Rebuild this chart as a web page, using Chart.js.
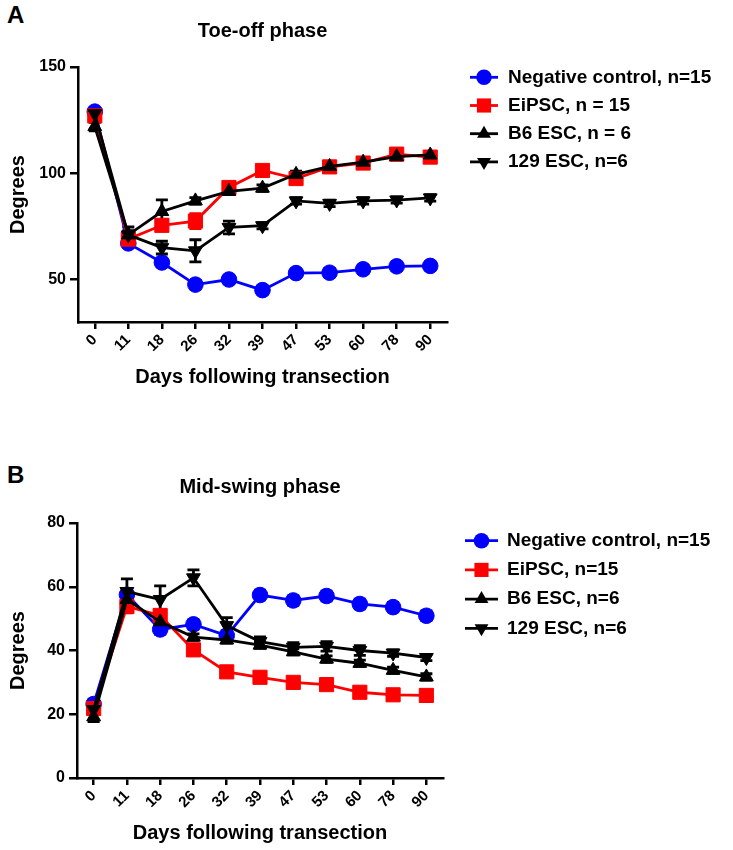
<!DOCTYPE html>
<html>
<head>
<meta charset="utf-8">
<script src="https://cdn.jsdelivr.net/npm/chart.js@4.4.0/dist/chart.umd.min.js"></script>
<style>
  body { margin: 0; background: #fff; width: 733px; height: 850px; position: relative; font-family: "Liberation Sans", Arial, sans-serif; }
  .panel { position: absolute; left: 7px; font-weight: bold; font-size: 24px; line-height: 24px; color: #000; }
  #wrapA { position: absolute; left: 0; top: 0; }
  #wrapB { position: absolute; left: 0; top: 425px; }
</style>
</head>
<body>
<div class="panel" style="top:3px">A</div>
<div class="panel" style="top:463px">B</div>
<div id="wrapA"><canvas id="chartA" width="733" height="400"></canvas></div>
<div id="wrapB"><canvas id="chartB" width="733" height="425"></canvas></div>
<script>
const dias = ["0", "11", "18", "26", "32", "39", "47", "53", "60", "78", "90"];

// A: Toe-off phase
const etiquetasA = ["Negative control, n=15", "EiPSC, n = 15", "B6 ESC, n = 6", "129 ESC, n=6"];
const toeNegativo = [129, 67, 58, 47.6, 50, 45, 53, 53.2, 54.8, 56.2, 56.4];
const toeEipsc = [127, 69, 75.5, 77.5, 93.3, 101.3, 97.5, 103, 104.8, 109, 107.6];
const toeB6 = [122, 71, 82, 87, 91.5, 93, 99.5, 103.2, 105.2, 107.8, 108.6];
const toe129 = [128, 71, 65, 63.5, 74.5, 75.3, 87, 85.8, 87, 87.4, 88.4];
const toeNegativoErr = [1.5, 1.5, 2, 2, 2, 2, 2, 2, 2, 2, 2];
const toeEipscErr = [1.5, 2, 1.5, 3.5, 1.5, 1.5, 1.5, 1.5, 1.5, 1.5, 1.5];
const toeB6Err = [2, 2, 5.5, 1.5, 1.5, 1.5, 1.5, 1.5, 1.5, 1.5, 1.5];
const toe129Err = [2, 3.7, 3, 5.2, 3, 1.5, 1.5, 1.5, 1.5, 1.5, 1.5];

// B: Mid-swing phase
const etiquetasB = ["Negative control, n=15", "EiPSC, n=15", "B6 ESC, n=6", "129 ESC, n=6"];
const swingNegativo = [23.2, 57.5, 46.6, 48.2, 44.7, 57.4, 55.7, 57.1, 54.6, 53.6, 50.9];
const swingEipsc = [21.8, 53.8, 51, 40.2, 33.3, 31.6, 30, 29.3, 26.9, 26.1, 25.9];
const swingB6 = [19.2, 56, 49, 44.2, 43.3, 41.7, 39.6, 37.3, 36, 33.8, 31.7];
const swing129 = [21.5, 58.5, 56, 62.8, 47.8, 42.8, 41, 41.3, 40, 39.2, 37.8];
const swingNegativoErr = [1.5, 1.5, 1.5, 1.5, 1.5, 1.5, 1.5, 1.5, 1.5, 1.5, 1.5];
const swingEipscErr = [1.5, 2, 1.5, 1.5, 1, 1, 1, 1, 1, 1, 1];
const swingB6Err = [1.5, 2, 1.5, 1, 1, 1, 1, 1, 1, 1, 1];
const swing129Err = [1.5, 4, 4.3, 2.5, 2.5, 1.5, 1.5, 1.5, 1.5, 1, 1];

const fuente = "'Liberation Sans', Arial, sans-serif";
const azul = "#0000ff";
const rojo = "#ff0000";
const negro = "#000000";

// barras de error dibujadas con la escala y de cada grafica
const barrasError = {
    id: "barrasError",
    beforeDatasetsDraw(chart) {
        const ctx = chart.ctx;
        const escalaY = chart.scales.y;
        chart.data.datasets.forEach((ds, i) => {
            const meta = chart.getDatasetMeta(i);
            ctx.save();
            ctx.strokeStyle = ds.borderColor;
            ctx.lineWidth = 2.8;
            meta.data.forEach((p, j) => {
                const e = ds.errores[j];
                if (!e) return;
                const arriba = escalaY.getPixelForValue(ds.data[j] + e);
                const abajo = escalaY.getPixelForValue(ds.data[j] - e);
                ctx.beginPath();
                ctx.moveTo(p.x, arriba);
                ctx.lineTo(p.x, abajo);
                ctx.moveTo(p.x - 6, arriba);
                ctx.lineTo(p.x + 6, arriba);
                ctx.moveTo(p.x - 6, abajo);
                ctx.lineTo(p.x + 6, abajo);
                ctx.stroke();
            });
            ctx.restore();
        });
    },
};

// leyenda a la derecha, linea + simbolo + texto
const leyenda = {
    id: "leyenda",
    afterDraw(chart, args, opts) {
        const ctx = chart.ctx;
        chart.data.datasets.forEach((ds, i) => {
            const y = opts.y + i * opts.paso;
            const x0 = opts.x;
            const x1 = opts.x + opts.largo;
            ctx.save();
            ctx.strokeStyle = ds.borderColor;
            ctx.fillStyle = ds.backgroundColor;
            ctx.lineWidth = 2.8;
            ctx.beginPath();
            ctx.moveTo(x0, y);
            ctx.lineTo(x1, y);
            ctx.stroke();
            Chart.helpers.drawPoint(ctx, {
                pointStyle: ds.pointStyle,
                radius: ds.pointRadius,
                rotation: ds.pointRotation,
                borderWidth: 0,
            }, (x0 + x1) / 2, y);
            ctx.fillStyle = negro;
            ctx.font = `bold 19px ${fuente}`;
            ctx.textBaseline = "middle";
            ctx.textAlign = "left";
            ctx.fillText(ds.label, opts.xTexto, y);
            ctx.restore();
        });
    },
};

const serie = (label, data, errores, color, estilo, rotacion, radio, orden) => ({
    label,
    data,
    errores,
    borderColor: color,
    backgroundColor: color,
    borderWidth: 2.8,
    pointStyle: estilo,
    pointRotation: rotacion,
    pointRadius: radio,
    pointBorderWidth: 1,
    pointBorderColor: color,
    pointBackgroundColor: color,
    tension: 0,
    order: orden,
});

const crearGrafica = (id, cfg) => new Chart(id, {
    type: "line",
    data: {
        labels: dias,
        datasets: [
            serie(cfg.etiquetas[0], cfg.series[0], cfg.errores[0], azul, "circle", 0, 7.8, 4),
            serie(cfg.etiquetas[1], cfg.series[1], cfg.errores[1], rojo, "rect", 0, 10, 3),
            serie(cfg.etiquetas[2], cfg.series[2], cfg.errores[2], negro, "triangle", 0, 8, 2),
            serie(cfg.etiquetas[3], cfg.series[3], cfg.errores[3], negro, "triangle", 180, 8, 1),
        ],
    },
    options: {
        responsive: false,
        animation: false,
        layout: { padding: { left: 0, top: 0, bottom: 0, right: cfg.derecha } },
        plugins: {
            legend: { display: false },
            tooltip: { enabled: false },
            title: {
                display: true,
                text: cfg.titulo,
                fullSize: false,
                color: negro,
                font: { family: fuente, size: 20, weight: "bold", lineHeight: 1.2 },
                padding: { top: cfg.tituloArriba, bottom: cfg.tituloAbajo },
            },
            leyenda: cfg.leyenda,
        },
        scales: {
            x: {
                type: "category",
                offset: true,
                afterFit: (s) => { s.height = cfg.altoX; },
                grid: { display: true, offset: false, drawOnChartArea: false, drawTicks: true, tickLength: 7, tickColor: negro, tickWidth: 2.5, lineWidth: 2.5, color: negro },
                border: { display: true, color: negro, width: 2.5 },
                ticks: { color: negro, font: { family: fuente, size: 15, weight: "bold" }, minRotation: 45, maxRotation: 45, padding: 2, autoSkip: false },
                title: {
                    display: true,
                    text: "Days following transection",
                    color: negro,
                    font: { family: fuente, size: 20, weight: "bold", lineHeight: 1.2 },
                    padding: { top: 0, bottom: cfg.tituloXAbajo },
                },
            },
            y: {
                min: cfg.min,
                max: cfg.max,
                afterFit: (s) => { s.width = cfg.anchoY; },
                afterBuildTicks: (s) => { s.ticks = s.ticks.filter((t) => t.value % cfg.paso === 0); },
                grid: { display: true, drawOnChartArea: false, drawTicks: true, tickLength: 8, tickColor: negro, tickWidth: 2.5, lineWidth: 2.5, color: negro },
                border: { display: true, color: negro, width: 2.5 },
                ticks: { stepSize: cfg.paso, color: negro, font: { family: fuente, size: 16, weight: "bold" }, padding: 4 },
                title: {
                    display: true,
                    text: "Degrees",
                    color: negro,
                    font: { family: fuente, size: 20, weight: "bold", lineHeight: 1.2 },
                    padding: { top: 6, bottom: 0 },
                },
            },
        },
    },
    plugins: [barrasError, leyenda],
});

crearGrafica("chartA", {
    titulo: "Toe-off phase",
    etiquetas: etiquetasA,
    series: [toeNegativo, toeEipsc, toeB6, toe129],
    errores: [toeNegativoErr, toeEipscErr, toeB6Err, toe129Err],
    min: 30,
    max: 150,
    paso: 50,
    derecha: 286,
    anchoY: 78,
    altoX: 78,
    tituloArriba: 19,
    tituloAbajo: 24,
    tituloXAbajo: 11,
    leyenda: { x: 470, largo: 28, y: 77.3, paso: 28.2, xTexto: 508 },
});

crearGrafica("chartB", {
    titulo: "Mid-swing phase",
    etiquetas: etiquetasB,
    series: [swingNegativo, swingEipsc, swingB6, swing129],
    errores: [swingNegativoErr, swingEipscErr, swingB6Err, swing129Err],
    min: 0,
    max: 80,
    paso: 20,
    derecha: 290,
    anchoY: 77,
    altoX: 72,
    tituloArriba: 50,
    tituloAbajo: 24,
    tituloXAbajo: 5,
    leyenda: { x: 465, largo: 33, y: 115.7, paso: 29.2, xTexto: 507 },
});
</script>
</body>
</html>
